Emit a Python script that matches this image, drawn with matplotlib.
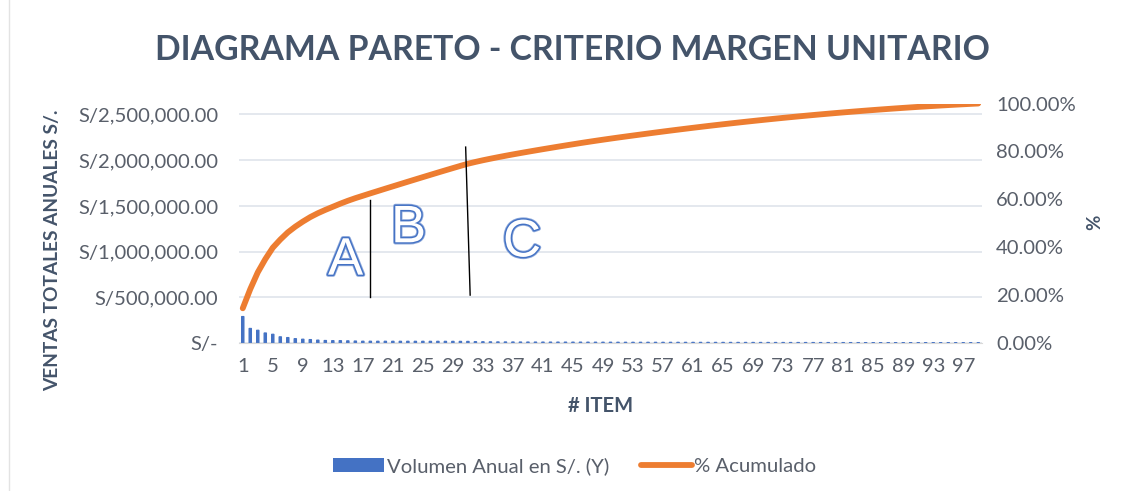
import matplotlib
matplotlib.use("Agg")
import matplotlib.pyplot as plt
import matplotlib.patheffects as pe
from matplotlib.ticker import FuncFormatter
from matplotlib.patches import Patch
from matplotlib.lines import Line2D
import numpy as np

# ---------------- data ----------------
items = list(range(1, 100))
ventas = [
    290000, 160000, 140000, 110000, 96000, 68000, 60000, 48000, 42000, 38000,
    32000, 28000, 26000, 26000, 24000, 22000, 20000, 20000, 19600, 19600,
    19400, 19400, 19400, 19200, 19200, 19000, 19000, 18800, 18600, 18400,
    18000, 15000, 14000, 13000, 12400, 12000, 11600, 11200, 11000, 10800,
    10600, 10400, 10400, 10200, 10000, 10000, 9600, 9400, 9200, 9000,
    8800, 8600, 8400, 8400, 8400, 8300, 8150, 8050, 7900, 7800,
    7700, 7550, 7450, 7300, 7200, 7100, 6950, 6850, 6700, 6600,
    6500, 6350, 6250, 6100, 6000, 5900, 5750, 5650, 5500, 5400,
    5300, 5150, 5050, 4900, 4800, 4700, 4550, 4450, 4300, 4200,
    4100, 3950, 3850, 3700, 3600, 3500, 3350, 3250, 3100,
]
left_ticks = [0, 500000, 1000000, 1500000, 2000000, 2500000]
pct_ticks = [0.0, 0.2, 0.4, 0.6, 0.8, 1.0]
xtick_items = list(range(1, 100, 4))
zone_labels = ["A", "B", "C"]
zone_label_pos = [(14.7, 0.344), (23.1, 0.479), (38.2, 0.420)]
zone_lines = [([18.0, 18.0], [0.597, 0.192]), ([30.7, 31.3], [0.818, 0.200])]

total = float(sum(ventas))
acumulado = np.cumsum(ventas) / total

# ---------------- style ----------------
W, H = 1132, 491
FONT = "Lato"
TXT = "#595F6A"
TITLE_C = "#44546A"
BLUE = "#4472C4"
ORANGE = "#ED7D31"
TICK_FS = 14.6

fig = plt.figure(figsize=(W / 100, H / 100), dpi=100)
fig.patch.set_facecolor("white")

left, right, top, bottom = 239, 982, 103.5, 343
ax = fig.add_axes([left / W, 1 - bottom / H, (right - left) / W, (bottom - top) / H])

bars = ax.bar(items, ventas, width=0.32, color=BLUE, edgecolor=BLUE,
              linewidth=0.8, zorder=2)
for b in bars:
    b.set_snap(False)
ax.set_xlim(0.5, 99.5)
ax.set_ylim(0, 2620000)
ax.set_yticks(left_ticks)
ax.yaxis.set_major_formatter(
    FuncFormatter(lambda v, p: "S/-" if v == 0 else f"S/{v:,.2f}"))
ax.set_xticks(xtick_items)
ax.set_xticklabels([str(i) for i in xtick_items])
ax.grid(axis="y", color="#DDE2E9", lw=1.1, zorder=0)
ax.set_axisbelow(True)
for s in ["top", "right", "left"]:
    ax.spines[s].set_visible(False)
ax.spines["bottom"].set_color("#D9D9D9")
ax.tick_params(axis="both", length=0, labelsize=TICK_FS, labelcolor=TXT)
ax.tick_params(axis="y", pad=15)
ax.tick_params(axis="x", pad=11)
for lab in ax.get_xticklabels() + ax.get_yticklabels():
    lab.set_fontfamily(FONT)

ax2 = ax.twinx()
ax2.plot(items, acumulado, color=ORANGE, lw=4.2, solid_capstyle="round", zorder=3)
ax2.set_ylim(0, 1.0)
ax2.set_yticks(pct_ticks)
ax2.yaxis.set_major_formatter(FuncFormatter(lambda v, p: f"{v*100:.2f}%"))
for s in ["top", "right", "left", "bottom"]:
    ax2.spines[s].set_visible(False)
ax2.tick_params(axis="y", length=0, labelsize=TICK_FS, labelcolor=TXT, pad=10)
for lab in ax2.get_yticklabels():
    lab.set_fontfamily(FONT)

# zone separators and letters
for xs, ys in zone_lines:
    ax2.plot(xs, ys, color="black", lw=1.0, zorder=4)
for lbl, (xx, yy) in zip(zone_labels, zone_label_pos):
    ax2.text(xx, yy, lbl, ha="center", va="center", fontsize=38,
             family="Liberation Sans", color="white", zorder=5,
             path_effects=[pe.Stroke(linewidth=3.2, foreground="#8FAADC"),
                           pe.Stroke(linewidth=2.0, foreground=BLUE), pe.Normal()])

# titles
fig.text(572 / W, 1 - 50 / H, "DIAGRAMA PARETO - CRITERIO MARGEN UNITARIO",
         ha="center", va="center", fontsize=24.3, fontweight="bold",
         family=FONT, color=TITLE_C)
fig.text(53 / W, 1 - 250 / H, "VENTAS TOTALES ANUALES S/.", rotation=90,
         ha="center", va="center", fontsize=13.8, fontweight="bold",
         family=FONT, color=TITLE_C)
fig.text(601 / W, 1 - 406 / H, "# ITEM", ha="center", va="center",
         fontsize=14.5, fontweight="bold", family=FONT, color=TITLE_C)
fig.text(1095 / W, 1 - 222 / H, "%", rotation=90, ha="center", va="center",
         fontsize=13.5, fontweight="bold", family=FONT, color=TITLE_C)

# legend
handles = [Patch(facecolor=BLUE, edgecolor="none"),
           Line2D([0], [0], color=ORANGE, lw=4.2, solid_capstyle="round")]
leg = fig.legend(handles, ["Volumen Anual en S/. (Y)", "% Acumulado"],
                 loc="center", bbox_to_anchor=(575 / W, 1 - 466 / H), ncol=2,
                 frameon=False, handlelength=2.5, handletextpad=0.12,
                 columnspacing=1.6, prop={"family": FONT, "size": 14.6})
for t in leg.get_texts():
    t.set_color(TXT)

# faint chart-area border on the left
fig.add_artist(Line2D([9 / W, 9 / W], [0, 1], color="#E3E3E3", lw=1,
                      transform=fig.transFigure))

fig.savefig("out.png", dpi=100, facecolor="white")
